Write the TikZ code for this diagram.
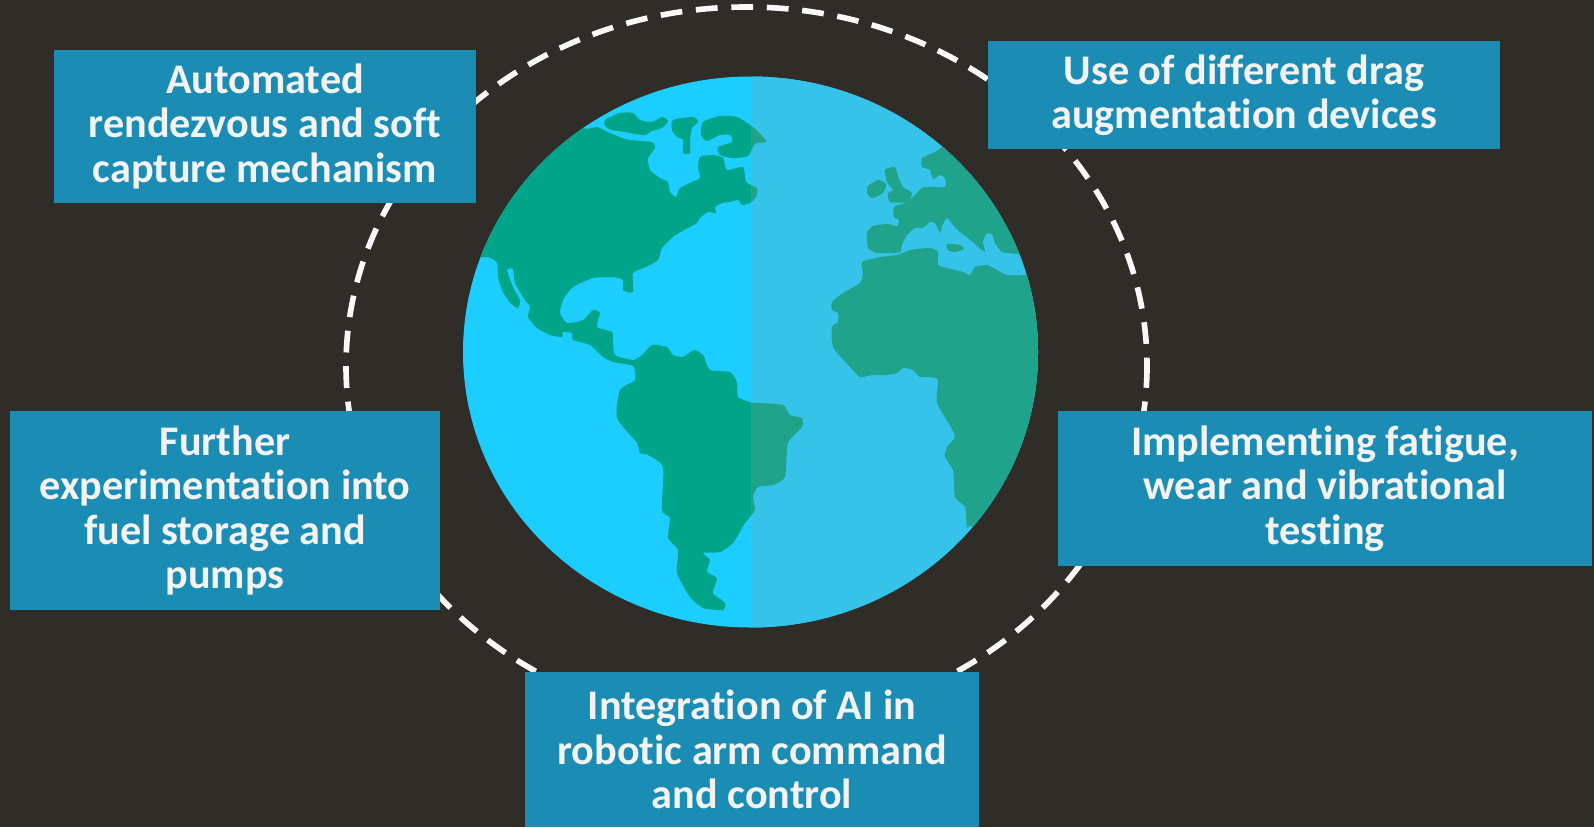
\documentclass[tikz,border=0pt]{standalone}
\usepackage{fontspec}
\setmainfont{Carlito}[Ligatures=NoCommon]
\usepackage{xcolor}

\definecolor{bgdark}{RGB}{48,45,41}
\definecolor{boxblue}{RGB}{27,141,181}
\definecolor{textwhite}{RGB}{243,243,243}
\definecolor{oceanwest}{RGB}{28,205,255}
\definecolor{landwest}{RGB}{0,164,136}
\definecolor{oceaneast}{RGB}{53,195,234}
\definecolor{landeast}{RGB}{31,163,138}

% globe outline, reused for clipping and filling
\newcommand{\globepath}{(750.5,352) ellipse [x radius=287.5, y radius=275.5]}

% all land masses, filled with whatever fill colour is active
\newcommand{\landmasses}{%
  % the Americas
  \fill plot[smooth cycle, tension=0.35] coordinates {
    (440,300) (470,180) (560,100) (583,128) (597,127) (610,133) (625,139)
    (640,141) (652,142) (655,148) (648,158) (650,170) (660,178) (668,182)
    (670,192) (676,197) (680,188) (692,182) (700,178) (698,167) (700,157)
    (713,155) (723,158) (727,170) (743,167) (746,182) (757,188) (756,197)
    (750,203) (742,205) (738,200) (730,202) (722,203) (715,207) (716,213)
    (708,212) (700,218) (697,223) (684,230) (673,237) (662,248) (658,260)
    (646,267) (633,273) (633,292) (623,290) (623,280) (613,277) (593,278)
    (573,287) (563,300) (560,313) (567,323) (583,320) (593,310) (600,313)
    (597,327) (612,332) (613,342) (615,355) (633,360) (642,355) (652,345)
    (667,347) (673,355) (683,357) (694,350) (703,355) (710,370) (730,372)
    (737,382) (738,397) (753,403) (760,403) (783,405) (790,415) (802,418)
    (802,427) (788,443) (785,477) (773,485) (758,487) (753,497) (755,510)
    (745,523) (733,543) (720,552) (703,553) (710,560) (707,572) (717,578)
    (713,593) (725,603) (723,610) (703,608) (690,597) (677,573) (678,550)
    (668,538) (670,518) (662,510) (663,467) (648,455) (640,453) (637,443)
    (617,418) (620,390) (635,380) (633,366) (613,362) (603,357) (590,345)
    (573,340) (572,333) (563,332) (562,337) (550,335) (537,328) (528,317)
    (530,307) (525,300) (515,283) (513,269) (507,270) (513,287) (520,300)
    (518,308) (510,303) (502,290) (498,277) (497,263) (487,257) (460,262)};
  % arctic islands
  \fill plot[smooth cycle, tension=0.4] coordinates {
    (605,120) (620,113) (633,113) (640,120) (652,122) (662,117) (668,121)
    (662,128) (652,131) (645,135) (635,134) (625,132) (612,130) (605,126)};
  \fill plot[smooth cycle, tension=0.4] coordinates {
    (673,120) (693,117) (698,122) (692,128) (690,140) (690,153) (683,153)
    (683,140) (677,137) (672,130)};
  % greenland
  \fill plot[smooth cycle, tension=0.4] coordinates {
    (703,122) (720,116) (737,117) (753,127) (763,137) (766,142) (755,144)
    (748,156) (733,158) (720,155) (718,147) (732,142) (730,135) (720,135)
    (707,141) (701,135)};
  % europe and asia
  \fill plot[smooth cycle, tension=0.35] coordinates {
    (868,248) (867,233) (873,226) (887,224) (897,226) (899,220) (894,217)
    (894,207) (905,203) (915,195) (922,188) (932,187) (945,187) (945,178)
    (940,175) (933,179) (930,170) (922,167) (922,158) (935,152) (942,147)
    (947,140) (975,100) (1070,200) (1050,256) (1017,254) (1002,252)
    (995,243) (992,234) (986,234) (983,242) (985,252) (976,245) (968,238)
    (960,232) (953,225) (947,218) (942,226) (940,233) (935,223) (930,222)
    (923,228) (915,228) (907,235) (902,245) (900,252) (890,253) (877,253)};
  \fill plot[smooth cycle, tension=0.4] coordinates {
    (947,244) (960,245) (964,249) (955,252) (948,250)};
  % british isles
  \fill plot[smooth cycle, tension=0.4] coordinates {
    (868,186) (878,180) (886,184) (883,193) (872,198) (867,193)};
  \fill plot[smooth cycle, tension=0.4] coordinates {
    (885,170) (895,167) (898,176) (903,187) (912,193) (907,202) (890,202)
    (888,193) (893,190) (887,182)};
  % africa
  \fill plot[smooth cycle, tension=0.35] coordinates {
    (862,262) (880,257) (897,255) (910,250) (930,248) (938,252) (938,265)
    (947,268) (963,272) (970,275) (975,267) (987,265) (997,270) (1007,275)
    (1025,275) (1060,270) (1070,450) (1000,560) (973,527) (967,527)
    (965,507) (955,497) (953,470) (945,457) (947,447) (955,435) (937,403)
    (938,380) (928,377) (920,377) (913,370) (903,368) (897,373) (887,375)
    (873,375) (860,377) (850,367) (833,347) (832,327) (838,322) (838,313)
    (832,310) (832,302) (843,293) (860,283) (863,273)};
}

\begin{document}
\begin{tikzpicture}[x=0.01cm,y=-0.01cm,
  infobox/.style={fill=boxblue,text=textwhite,align=center,inner sep=0pt,
    font=\bfseries\fontsize{12}{12.6}\selectfont},
  orbit/.style={white!95!gray,line width=1.6pt,dash pattern=on 6.2pt off 3.9pt}]
  % dark backdrop
  \fill[bgdark] (0,0) rectangle (1594,827);
  \useasboundingbox (0,0) rectangle (1594,827);

  % dashed orbit round the globe
  \draw[orbit] (746.5,366) ellipse [x radius=400.5, y radius=359];

  % whole globe in the western colours
  \begin{scope}
    \clip \globepath;
    \fill[oceanwest] (0,0) rectangle (1594,827);
    \begin{scope}[fill=landwest]
      \landmasses
    \end{scope}
  \end{scope}
  % eastern half painted over, a shade duller
  \begin{scope}
    \clip \globepath;
    \clip (751.5,0) rectangle (1594,827);
    \fill[oceaneast] (0,0) rectangle (1594,827);
    \begin{scope}[fill=landeast]
      \landmasses
    \end{scope}
  \end{scope}

  % the five boxes
  \node[infobox,minimum width=4.22cm,minimum height=1.53cm] (rendezvous) at (265,126.5)
    {Automated\\rendezvous and soft\\capture mechanism};
  \node[infobox,minimum width=5.12cm,minimum height=1.08cm] (drag) at (1244,95)
    {Use of different drag\\augmentation devices};
  \node[infobox,minimum width=4.30cm,minimum height=1.99cm] (fuel) at (225,510.5)
    {Further\\experimentation into\\fuel storage and\\pumps};
  \node[infobox,minimum width=5.34cm,minimum height=1.55cm] (fatigue) at (1325,488.5)
    {Implementing fatigue,\\wear and vibrational\\testing};
  \node[infobox,minimum width=4.54cm,minimum height=1.55cm] (robotic) at (752,749.5)
    {Integration of AI in\\robotic arm command\\and control};
\end{tikzpicture}
\end{document}
